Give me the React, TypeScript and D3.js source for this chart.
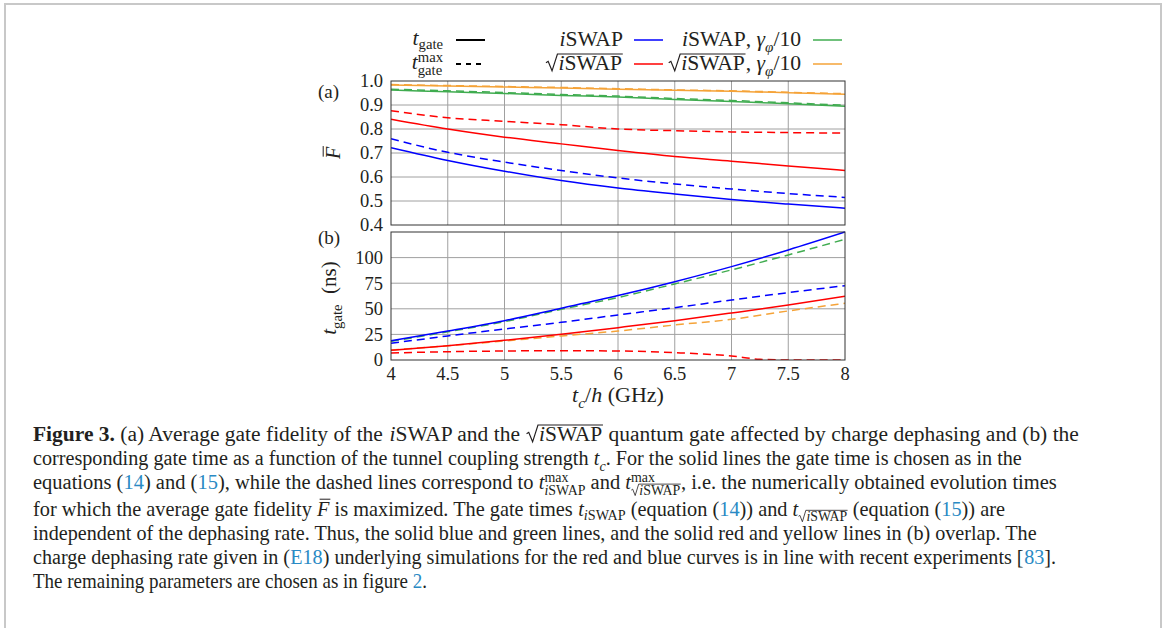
import React from 'react';
import * as d3 from 'd3';

const W = 1165, H = 628;

// ---------- data ----------
const tc = [4, 4.5, 5, 5.5, 6, 6.5, 7, 7.5, 8];
// panel (a): average gate fidelity
const fIswapSolid = [0.722, 0.669, 0.624, 0.585, 0.554, 0.529, 0.506, 0.487, 0.470];
const fIswapDashed = [0.759, 0.703, 0.662, 0.627, 0.596, 0.571, 0.550, 0.531, 0.515];
const fSqrtSolid = [0.841, 0.800, 0.766, 0.738, 0.710, 0.685, 0.666, 0.646, 0.627];
const fSqrtDashed = [0.876, 0.847, 0.832, 0.818, 0.800, 0.793, 0.788, 0.785, 0.783];
const fIswapLowSolid = [0.962, 0.955, 0.948, 0.940, 0.933, 0.923, 0.915, 0.905, 0.895];
const fIswapLowDashed = [0.966, 0.959, 0.952, 0.944, 0.937, 0.927, 0.919, 0.909, 0.899];
const fSqrtLowSolid = [0.983, 0.979, 0.975, 0.971, 0.966, 0.961, 0.957, 0.951, 0.945];
const fSqrtLowDashed = [0.985, 0.981, 0.977, 0.973, 0.968, 0.963, 0.959, 0.953, 0.947];
// panel (b): gate times (ns)
const tIswapSolid = [18.9, 28.3, 38.4, 50.5, 62.9, 76.5, 91.2, 107.5, 125.0];
const tIswapDashed = [16.3, 23.5, 30.3, 36.8, 44.0, 51.1, 58.6, 65.8, 72.6];
const tIswapLowDashed = [18.2, 27.5, 37.5, 49.5, 61.0, 74.3, 88.0, 102.6, 117.9];
const tSqrtSolid = [9.4, 14.0, 19.2, 25.1, 31.6, 38.4, 45.9, 53.7, 62.2];
const tSqrtLowDashed = [9.8, 13.9, 18.6, 23.5, 28.3, 34.2, 39.7, 47.9, 55.4];
const tcSqrtDashed = [4, 4.5, 5, 5.5, 6, 6.5, 7, 7.25, 7.5, 8];
const tSqrtDashed = [6.8, 8.1, 8.8, 9.1, 8.8, 7.2, 3.9, 0.7, 0, 0];

const xTicks = [4, 4.5, 5, 5.5, 6, 6.5, 7, 7.5, 8];
const yTicksA = [0.4, 0.5, 0.6, 0.7, 0.8, 0.9, 1.0];
const yTicksB = [0, 25, 50, 75, 100];

const BLUE = '#0000ff', RED = '#ff0000', GREEN = '#40ac50', ORANGE = '#f5a338';
const TXT = '#231f20', LINK = '#2a8ac4';

// ---------- rich text ----------
type Seg = { t?: string; it?: boolean; b?: boolean; s?: number; dy?: number; c?: string; over?: boolean; rad?: Seg[]; stack?: [Seg[], Seg[]] };
type Item = { k: 't'; x: number; y: number; t: string; px: number; it?: boolean; b?: boolean; c: string } | { k: 'p'; d: string; sw: number; c: string };

const FAM = 'Liberation Serif';
let ctx: CanvasRenderingContext2D | null = null;
function mw(t: string, px: number, it?: boolean, b?: boolean) {
  if (!ctx) ctx = document.createElement('canvas').getContext('2d');
  ctx!.font = `${it ? 'italic ' : ''}${b ? 'bold ' : ''}${px}px "${FAM}"`;
  return ctx!.measureText(t).width;
}

function lay(segs: Seg[], x: number, y: number, px: number, c: string, out: Item[]): number {
  let cx = x;
  for (const s of segs) {
    const sp = px * (s.s ?? 1);
    const sy = y + (s.dy ?? 0) * px;
    const col = s.c ?? c;
    if (s.stack) {
      const w1 = lay(s.stack[0], cx, y - 0.37 * px, px * 0.68, col, out);
      const w2 = lay(s.stack[1], cx, y + 0.3 * px, px * 0.68, col, out);
      cx += Math.max(w1, w2);
    } else if (s.rad) {
      const rw = 0.6 * sp;
      const inner = cx + rw;
      const wi = lay(s.rad, inner, sy, sp, col, out);
      const top = sy - 0.8 * sp;
      const d = `M${cx + 0.02 * sp},${sy - 0.36 * sp} L${cx + 0.12 * sp},${sy - 0.43 * sp} L${cx + 0.3 * sp},${sy + 0.04 * sp} L${cx + 0.55 * sp},${top} L${inner + wi + 0.03 * sp},${top}`;
      out.push({ k: 'p', d, sw: Math.max(0.8, sp * 0.055), c: col });
      cx = inner + wi + 0.04 * sp;
    } else {
      const w = mw(s.t!, sp, s.it, s.b);
      out.push({ k: 't', x: cx, y: sy, t: s.t!, px: sp, it: s.it, b: s.b, c: col });
      if (s.over) out.push({ k: 'p', d: `M${cx + 0.2 * w},${sy - 0.84 * sp} L${cx + w + 0.04 * sp},${sy - 0.84 * sp}`, sw: Math.max(0.8, sp * 0.05), c: col });
      cx += w;
    }
  }
  return cx - x;
}

function Rich({ segs, x, y, px, c = TXT, anchor = 'start', rot = 0, sx = 1, targetW }: { segs: Seg[]; x: number; y: number; px: number; c?: string; anchor?: string; rot?: number; sx?: number; targetW?: number }) {
  const out: Item[] = [];
  const w0 = lay(segs, 0, 0, px, c, out);
  const k = targetW ? Math.max(0.95, Math.min(1.15, targetW / w0)) : sx;
  const w = w0 * k;
  const shift = anchor === 'end' ? -w : anchor === 'middle' ? -w / 2 : 0;
  return (
    <g transform={`translate(${x},${y})${rot ? ` rotate(${rot})` : ''}`}>
      <g transform={`translate(${shift},0) scale(${k},1)`}>
        {out.map((it, i) =>
          it.k === 't' ? (
            <text key={i} x={it.x} y={it.y} fontSize={it.px} fontStyle={it.it ? 'italic' : 'normal'} fontWeight={it.b ? 'bold' : 'normal'} fill={it.c} fontFamily={`"${FAM}", serif`} style={{ whiteSpace: 'pre' }}>{it.t}</text>
          ) : (
            <path key={i} d={it.d} stroke={it.c} strokeWidth={it.sw} fill="none" />
          )
        )}
      </g>
    </g>
  );
}

const I = (t: string): Seg => ({ t, it: true });
const N = (t: string): Seg => ({ t });
const L = (t: string): Seg => ({ t, c: LINK });
const iswap: Seg[] = [I('i'), N('SWAP')];
const sub = (t: string, it = false): Seg => ({ t, it, s: 0.7, dy: 0.28 });

// ---------- chart geometry ----------
const PL = 391, PR = 845;
const AT = 81, AB = 225, BT = 232, BB = 360;
const x = d3.scaleLinear().domain([4, 8]).range([PL, PR]);
const ya = d3.scaleLinear().domain([0.4, 1.0]).range([AB, AT]);
const yb = d3.scaleLinear().domain([0, 125]).range([BB, BT]);

type Series = { xv: number[]; yv: number[]; color: string; dashed: boolean };
const seriesA: Series[] = [
  { xv: tc, yv: fIswapDashed, color: BLUE, dashed: true },
  { xv: tc, yv: fIswapSolid, color: BLUE, dashed: false },
  { xv: tc, yv: fSqrtDashed, color: RED, dashed: true },
  { xv: tc, yv: fSqrtSolid, color: RED, dashed: false },
  { xv: tc, yv: fIswapLowSolid, color: GREEN, dashed: false },
  { xv: tc, yv: fIswapLowDashed, color: GREEN, dashed: true },
  { xv: tc, yv: fSqrtLowSolid, color: ORANGE, dashed: false },
  { xv: tc, yv: fSqrtLowDashed, color: ORANGE, dashed: true },
];
const seriesB: Series[] = [
  { xv: tc, yv: tIswapLowDashed, color: GREEN, dashed: true },
  { xv: tc, yv: tIswapSolid, color: BLUE, dashed: false },
  { xv: tc, yv: tIswapDashed, color: BLUE, dashed: true },
  { xv: tc, yv: tSqrtLowDashed, color: ORANGE, dashed: true },
  { xv: tc, yv: tSqrtSolid, color: RED, dashed: false },
  { xv: tcSqrtDashed, yv: tSqrtDashed, color: RED, dashed: true },
];

function pathFor(s: Series, y: d3.ScaleLinear<number, number>) {
  const pts = s.xv.map((v, i) => [v, s.yv[i]] as [number, number]);
  return d3.line<[number, number]>().x(d => x(d[0])).y(d => y(d[1])).curve(d3.curveMonotoneX)(pts) || '';
}

const GRID = '#a0a0a0', FRAME = '#333';
const TICKPX = 18.5;

function Panel({ y, top, bottom, ticks, labels, series, fmt }: any) {
  return (
    <g>
      {xTicks.slice(1, -1).map(t => (
        <line key={'gx' + t} x1={x(t)} x2={x(t)} y1={top} y2={bottom} stroke={GRID} strokeWidth={1} />
      ))}
      {ticks.filter((t: number) => y(t) > top + 1 && y(t) < bottom - 1).map((t: number) => (
        <line key={'gy' + t} x1={PL} x2={PR} y1={y(t)} y2={y(t)} stroke={GRID} strokeWidth={1} />
      ))}
      <g clipPath={`url(#clip${top})`}>
        {series.map((s: Series, i: number) => (
          <path key={i} d={pathFor(s, y)} fill="none" stroke={s.color} strokeWidth={1.5} strokeDasharray={s.dashed ? '8,5' : undefined} />
        ))}
      </g>
      <rect x={PL} y={top} width={PR - PL} height={bottom - top} fill="none" stroke={FRAME} strokeWidth={1} />
      {labels.map((t: number) => (
        <text key={'yl' + t} x={PL - 8} y={y(t)} dy="0.35em" textAnchor="end" fontSize={TICKPX} fill={TXT} fontFamily={`"${FAM}", serif`}>{fmt(t)}</text>
      ))}
    </g>
  );
}

const captionLines: Seg[][] = [
  [{ t: 'Figure 3.', b: true }, N(' (a) Average gate fidelity of the '), I('i'), N('SWAP and the '), { rad: iswap }, N(' quantum gate affected by charge dephasing and (b) the')],
  [N('corresponding gate time as a function of the tunnel coupling strength '), I('t'), sub('c', true), N('. For the solid lines the gate time is chosen as in the')],
  [N('equations ('), L('14'), N(') and ('), L('15'), N('), while the dashed lines correspond to '), I('t'), { stack: [[N('max')], iswap] }, N(' and '), I('t'), { stack: [[N('max')], [{ rad: iswap }]] }, N(', i.e. the numerically obtained evolution times')],
  [N('for which the average gate fidelity '), { t: 'F', it: true, over: true }, N(' is maximized. The gate times '), I('t'), { t: 'i', it: true, s: 0.7, dy: 0.22 }, { t: 'SWAP', s: 0.7, dy: 0.22 }, N(' (equation ('), L('14'), N(')) and '), I('t'), { rad: iswap, s: 0.68, dy: 0.26 }, N(' (equation ('), L('15'), N(')) are')],
  [N('independent of the dephasing rate. Thus, the solid blue and green lines, and the solid red and yellow lines in (b) overlap. The')],
  [N('charge dephasing rate given in ('), L('E18'), N(') underlying simulations for the red and blue curves is in line with recent experiments ['), L('83'), N('].')],
  [N('The remaining parameters are chosen as in figure '), L('2'), N('.')],
];
const captionBase = [441, 465, 489, 516, 540, 564, 588];
const captionRight = [1079, 1022, 1057, 1005, 1038, 1056, 412];
const CAP_X = 33;

export default function App() {
  const LPX = 20;
  const legendSegs: { segs: Seg[]; x: number; y: number; color: string; dashed: boolean; lx: number }[] = [
    { segs: [I('t'), { t: 'gate', s: 0.68, dy: 0.18 }], x: 443, y: 45, color: '#000', dashed: false, lx: 456 },
    { segs: [I('t'), { stack: [[N('max')], [N('gate')]] }], x: 443, y: 69, color: '#000', dashed: true, lx: 456 },
    { segs: iswap, x: 623, y: 46, color: BLUE, dashed: false, lx: 634 },
    { segs: [{ rad: iswap }], x: 623, y: 70, color: RED, dashed: false, lx: 634 },
    { segs: [...iswap, N(', '), I('γ'), sub('φ', true), N('/10')], x: 801, y: 46, color: GREEN, dashed: false, lx: 813 },
    { segs: [{ rad: iswap }, N(', '), I('γ'), sub('φ', true), N('/10')], x: 801, y: 70, color: ORANGE, dashed: false, lx: 813 },
  ];
  return (
    <svg width={W} height={H} style={{ position: 'absolute', left: 0, top: 0, background: '#fff' }}>
      <defs>
        <clipPath id={`clip${AT}`}><rect x={PL} y={AT} width={PR - PL} height={AB - AT} /></clipPath>
        <clipPath id={`clip${BT}`}><rect x={PL} y={BT - 1} width={PR - PL} height={BB - BT + 1} /></clipPath>
      </defs>
      <rect x={5} y={4} width={1156} height={700} fill="none" stroke="#c8c8c8" strokeWidth={2} />

      {legendSegs.map((l, i) => (
        <g key={i}>
          <Rich segs={l.segs} x={l.x} y={l.y} px={LPX} anchor="end" sx={1.08} />
          <line x1={l.lx} x2={l.lx + 29} y1={i % 2 === 0 ? 40 : 64} y2={i % 2 === 0 ? 40 : 64} stroke={l.color} strokeWidth={l.color === '#000' ? 2 : 1.5} strokeDasharray={l.dashed ? '5,5' : undefined} />
        </g>
      ))}

      <Panel y={ya} top={AT} bottom={AB} ticks={yTicksA} labels={yTicksA} series={seriesA} fmt={(t: number) => t.toFixed(1)} />
      <Panel y={yb} top={BT} bottom={BB} ticks={yTicksB} labels={yTicksB} series={seriesB} fmt={(t: number) => String(t)} />

      {xTicks.map(t => (
        <text key={'xl' + t} x={x(t)} y={380} textAnchor="middle" fontSize={TICKPX} fill={TXT} fontFamily={`"${FAM}", serif`}>{String(t)}</text>
      ))}

      <Rich segs={[N('(a)')]} x={318} y={98} px={19} />
      <Rich segs={[N('(b)')]} x={318} y={244} px={19} />
      <Rich segs={[{ t: 'F', it: true, over: true }]} x={340} y={153} px={20} anchor="middle" rot={-90} />
      <Rich segs={[I('t'), sub('gate'), N('  (ns)')]} x={336} y={298} px={20} anchor="middle" rot={-90} sx={1.05} />
      <Rich segs={[I('t'), sub('c', true), N('/'), I('h'), N(' (GHz)')]} x={618} y={402} px={20} anchor="middle" sx={1.1} />

      {captionLines.map((segs, i) => (
        <Rich key={i} segs={segs} x={CAP_X} y={captionBase[i]} px={20} targetW={captionRight[i] - CAP_X} />
      ))}
    </svg>
  );
}
